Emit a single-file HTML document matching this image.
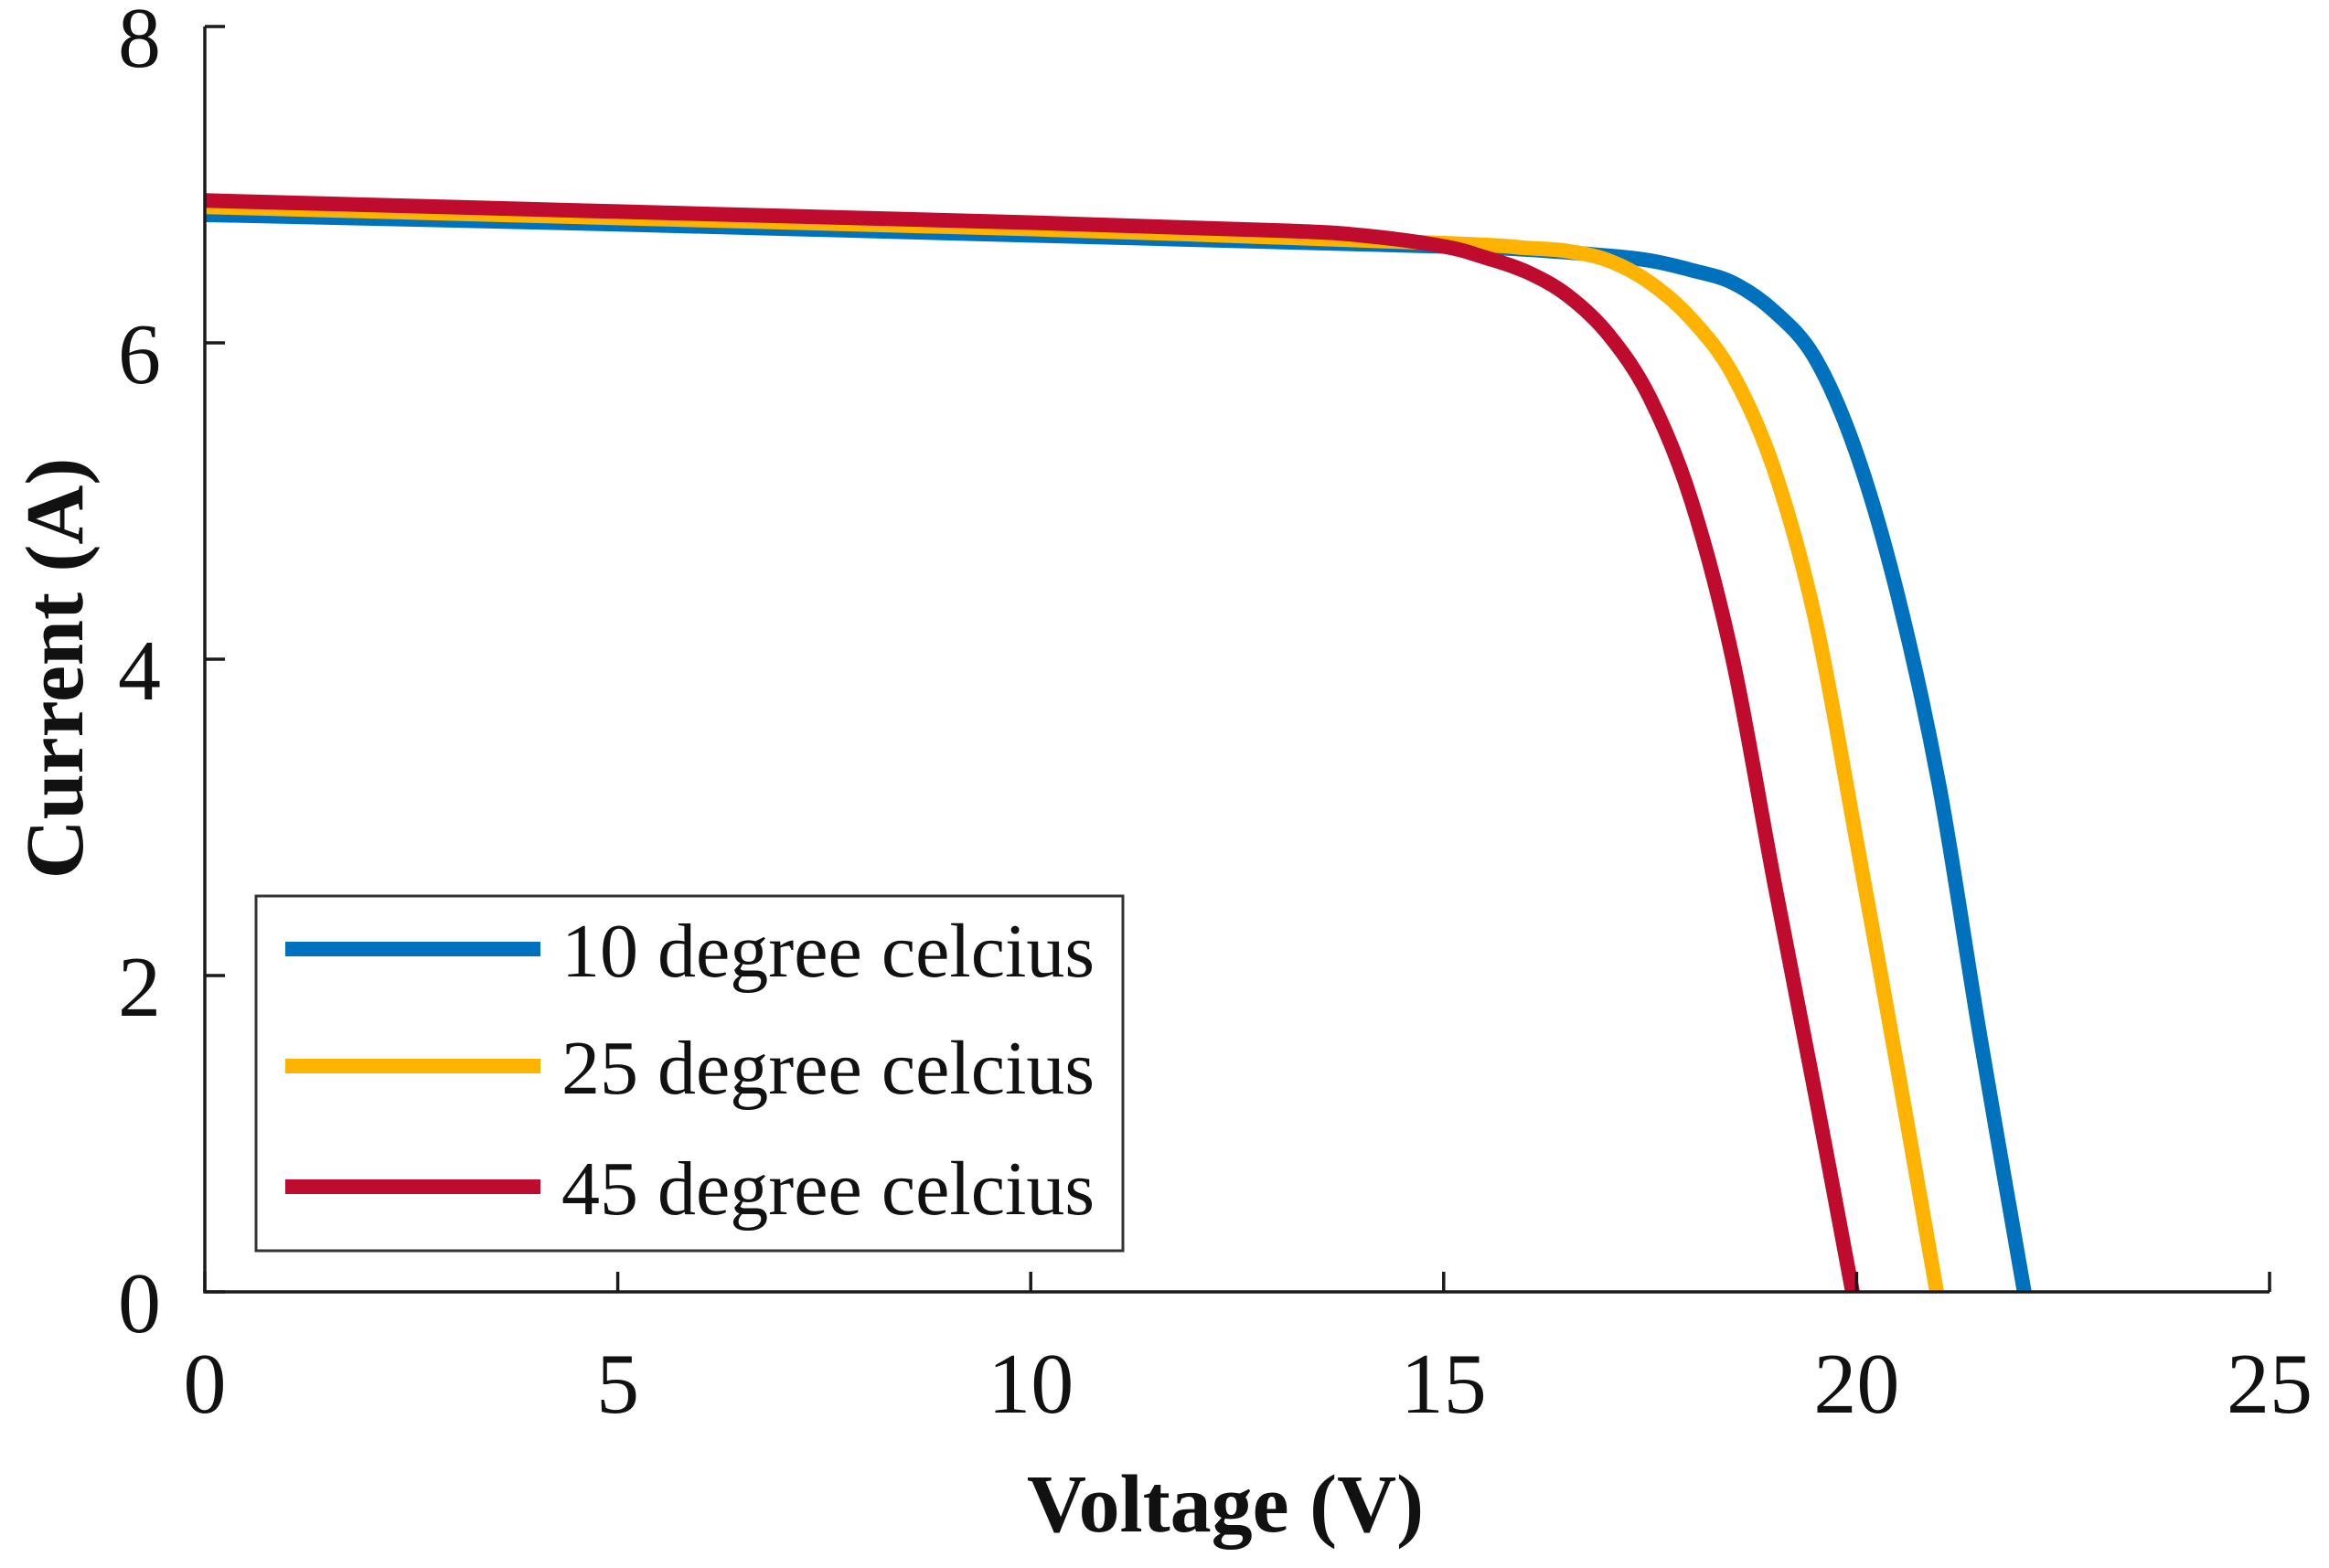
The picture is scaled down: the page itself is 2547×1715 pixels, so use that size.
<!DOCTYPE html>
<html><head><meta charset="utf-8"><style>
html,body{margin:0;padding:0;background:#fff;}
svg{display:block;font-family:"Liberation Serif",serif;}
</style></head><body>
<svg id="chart" width="2547" height="1715" viewBox="0 0 2547 1715" xmlns="http://www.w3.org/2000/svg">
<g id="plot"></g>
</svg>
<script>
const xTicks=[0,5,10,15,20,25];
const yTicks=[0,2,4,6,8];
const seriesNames=["10 degree celcius","25 degree celcius","45 degree celcius"];
const blueV=[0,5,10,15,16,17,17.5,18,18.5,19,19.5,20,20.5,21,21.5,22.03];
const blueI=[6.81,6.75,6.68,6.61,6.59,6.55,6.52,6.46,6.38,6.2,5.9,5.3,4.4,3.2,1.6,0];
const yellowV=[0,5,10,15,16,16.5,17,17.5,18,18.5,19,19.5,20,20.5,20.97];
const yellowI=[6.86,6.79,6.72,6.63,6.6,6.58,6.52,6.38,6.15,5.8,5.2,4.25,2.85,1.4,0];
const redV=[0,5,10,13,14,15,15.5,16,16.5,17,17.5,18,18.5,19,19.5,19.95];
const redI=[6.90,6.83,6.76,6.71,6.68,6.61,6.54,6.45,6.3,6.05,5.65,5.0,4.0,2.6,1.25,0];

const NS="http://www.w3.org/2000/svg";
const X0=224,X1=2482,Y0=1413,Y1=29;
const sx=v=>X0+(v-0)/(25-0)*(X1-X0);
const sy=v=>Y0-(v-0)/(8-0)*(Y0-Y1);
const g=document.getElementById('plot');
function mk(tag,attrs,parent){const e=document.createElementNS(NS,tag);for(const k in attrs)e.setAttribute(k,attrs[k]);(parent||g).appendChild(e);return e;}

function pathFor(V,I){
  const p=V.map((v,i)=>[sx(v),sy(I[i])]);
  let d=`M${p[0][0]},${p[0][1]}`;
  for(let i=0;i<p.length-1;i++){
    const p0=p[i-1]||p[i],p1=p[i],p2=p[i+1],p3=p[i+2]||p2;
    const c1=[p1[0]+(p2[0]-p0[0])/6,p1[1]+(p2[1]-p0[1])/6];
    const c2=[p2[0]-(p3[0]-p1[0])/6,p2[1]-(p3[1]-p1[1])/6];
    d+=` C${c1[0]},${c1[1]} ${c2[0]},${c2[1]} ${p2[0]},${p2[1]}`;
  }
  return d;
}

const colors=["#0072BD","#FDB300","#BE0B2E"];
const data=[[blueV,blueI],[yellowV,yellowI],[redV,redI]];
const names=["series-10c","series-25c","series-45c"];
data.forEach((s,k)=>{
  const e=mk('path',{d:pathFor(s[0],s[1]),fill:'none',stroke:colors[k],'stroke-width':16,'stroke-linejoin':'round'});
  
  
});

const ax=mk('path',{d:`M${X0},${Y1} V${Y0} H${X1}`,fill:'none',stroke:'#1a1a1a','stroke-width':3.5});


xTicks.forEach(t=>{
  const tk=mk('line',{x1:sx(t),x2:sx(t),y1:Y0,y2:Y0-22,stroke:'#1a1a1a','stroke-width':3.5});
  
  
  const lb=mk('text',{x:sx(t),y:1545,'text-anchor':'middle','font-size':94,fill:'#111'});
  lb.textContent=t;
  
  
});
yTicks.forEach(t=>{
  const tk=mk('line',{x1:X0,x2:X0+22,y1:sy(t),y2:sy(t),stroke:'#1a1a1a','stroke-width':3.5});
  
  
  const lb=mk('text',{x:176,y:sy(t)+44,'text-anchor':'end','font-size':94,fill:'#111'});
  lb.textContent=t;
  
  
});
const xt=mk('text',{x:1340,y:1675,'text-anchor':'middle','font-size':90,'font-weight':'bold',fill:'#111'});
xt.textContent='Voltage (V)';


const yt=mk('text',{x:0,y:0,'text-anchor':'middle','font-size':90,'font-weight':'bold',fill:'#111',transform:'translate(90,731) rotate(-90)'});
yt.textContent='Current (A)';



const lg=mk('g',{});


const box=mk('rect',{x:280,y:980,width:948,height:388,fill:'#fff',stroke:'#333','stroke-width':3},lg);


const ly=[1038,1166,1298];
seriesNames.forEach((n,k)=>{
  const ent=mk('g',{},lg);
  
  
  mk('line',{x1:312,x2:591,y1:ly[k],y2:ly[k],stroke:colors[k],'stroke-width':16},ent);
  const t=mk('text',{x:614,y:ly[k]+30,'font-size':84,fill:'#111'},ent);
  t.textContent=n;
});
</script>
</body></html>
